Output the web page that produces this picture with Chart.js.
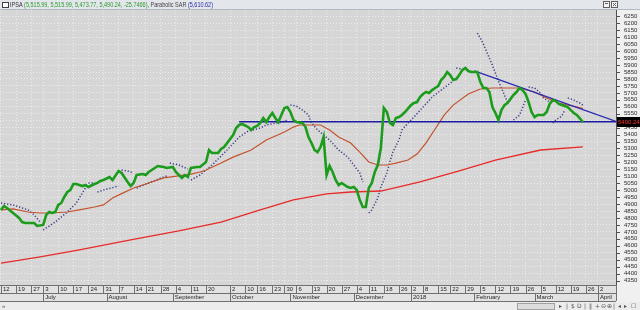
<!DOCTYPE html>
<html>
<head>
<meta charset="utf-8">
<script src="https://cdn.jsdelivr.net/npm/chart.js@4.4.1/dist/chart.umd.min.js"></script>
<style>
  html, body { margin: 0; padding: 0; background: #f0f0f0; overflow: hidden; }
  canvas { display: block; }
</style>
</head>
<body>
<canvas id="ipsaChart" width="640" height="310"></canvas>
<script>
// IPSA daily chart with 50/200 day averages, parabolic SAR and two trend lines.
// x = trading day index (0 = Mon 12 Jun 2017), y = index level.

const FONT = 'Liberation Sans';

// --- date band ---
const dayTickIdx = [0, 5, 10, 14, 19, 24, 29, 34, 39, 44, 48, 53, 58, 63, 68, 76, 81, 85, 90, 94, 98,
  103, 108, 113, 118, 122, 127, 132, 136, 140, 145, 149, 154, 159, 164, 169, 174, 179, 184, 189, 194, 198];
const dayTickLbl = ['12', '19', '27', '3', '10', '17', '24', '31', '7', '14', '21', '28', '4', '11', '20', '2', '10', '16', '23', '30', '6',
  '13', '20', '27', '4', '11', '18', '26', '2', '8', '15', '22', '29', '5', '12', '19', '26', '5', '12', '19', '26', '2'];
const monthTickIdx = [14, 35, 57, 76, 96, 117, 136, 157, 177, 198];
const monthTickLbl = ['July', 'August', 'September', 'October', 'November', 'December', '2018', 'February', 'March', 'April'];

// --- price axis labels ---
const yTickFirst = 4350;
const yTickLast = 6250;
const yTickStep = 50;

// --- close price ---
const priceDay = [0, 1, 2, 4, 6, 7, 8, 10, 11, 12, 14, 15, 16, 17, 18, 19, 20, 21, 22, 23, 24, 25, 27, 28, 29, 31, 32, 33, 34, 36, 37,
  39, 40, 42, 43, 44, 45, 47, 48, 49, 50, 52, 54, 55, 57, 58, 60, 61, 62, 63, 65, 66, 68, 69, 70, 72, 73, 74, 75, 77, 78, 79, 80,
  82, 83, 84, 85, 86, 87, 88, 89, 90, 91, 92, 93, 94, 95, 96, 97, 98, 100, 101, 102, 103, 104, 105, 106, 107, 108, 109, 110, 111,
  112, 113, 115, 116, 117, 118, 119, 120, 121, 122, 123, 124, 125, 126, 127, 128, 129, 130, 131, 132, 133, 134, 136, 137, 138, 139,
  140, 141, 142, 143, 144, 145, 146, 147, 148, 149, 150, 151, 152, 153, 154, 155, 156, 157, 158, 159, 160, 161, 162, 163, 164, 165,
  166, 167, 168, 170, 171, 172, 173, 174, 175, 176, 177, 178, 179, 180, 181, 182, 183, 184, 185, 186, 187, 188, 189, 190, 191, 192, 193];
const priceVal = [4858, 4886, 4872, 4836, 4800, 4771, 4764, 4764, 4764, 4743, 4750, 4822, 4843, 4836, 4843, 4894, 4908, 4951, 4987, 5001, 5044, 5044, 5030, 5037, 5023, 5044, 5052, 5066, 5073, 5095, 5073,
  5138, 5124, 5059, 5030, 5052, 5109, 5116, 5109, 5131, 5145, 5174, 5167, 5160, 5167, 5131, 5088, 5109, 5095, 5160, 5167, 5167, 5203, 5289, 5267, 5267, 5296, 5310, 5339, 5397, 5447, 5469, 5476,
  5454, 5433, 5454, 5462, 5483, 5519, 5490, 5526, 5555, 5519, 5490, 5541, 5591, 5598, 5562, 5505, 5490, 5483, 5454, 5382, 5339, 5289, 5274, 5310, 5382, 5109, 5174, 5131, 5073,
  5037, 5052, 5023, 5016, 5023, 5001, 4930, 4879, 4879, 5016, 5052, 5131, 5181, 5303, 5591, 5562, 5483, 5469, 5519, 5526, 5541, 5562, 5612, 5627, 5634, 5670,
  5692, 5706, 5699, 5720, 5735, 5749, 5792, 5814, 5850, 5828, 5792, 5799, 5828, 5864, 5879, 5857, 5850, 5850, 5850, 5778, 5735, 5735, 5706, 5598, 5555, 5505,
  5576, 5612, 5627, 5685, 5706, 5735, 5720, 5692, 5634, 5562, 5526, 5541, 5541, 5541, 5562, 5620, 5648, 5641, 5620, 5612, 5605, 5598, 5576, 5555, 5541, 5516, 5490];

// --- 50 day average ---
const maShortDay = [0, 4, 9, 13, 16, 22, 26, 31, 34, 37, 40, 44, 49, 54, 63, 66, 68, 73, 77, 83, 88, 94, 97, 99, 103, 106, 109, 112,
  116, 119, 122, 125, 128, 131, 135, 138, 141, 144, 147, 150, 155, 159, 163, 169, 172, 177, 181, 185, 193];
const maShortVal = [4858, 4865, 4843, 4836, 4836, 4843, 4858, 4879, 4894, 4944, 4975, 5016, 5052, 5088, 5116, 5131, 5145, 5195, 5238, 5289, 5361, 5418, 5454, 5469, 5469, 5469, 5433, 5382,
  5339, 5274, 5203, 5181, 5181, 5195, 5217, 5260, 5340, 5440, 5540, 5612, 5692, 5728, 5735, 5735, 5735, 5706, 5663, 5627, 5588];

// --- 200 day average ---
const maLongDay = [0, 13, 26, 43, 59, 73, 86, 97, 108, 116, 126, 132, 139, 152, 164, 179, 193];
const maLongVal = [4476, 4520, 4570, 4642, 4707, 4771, 4858, 4930, 4973, 4987, 4994, 5023, 5059, 5138, 5217, 5289, 5312];

// --- parabolic SAR (null = trend flip) ---
const sarDay = [0, 4, 9, 11, 13, 13.5, 14, 18, 22, 25, 27, 28, 28.5, 29, 31, 31.5, 32, 34, 39, 39.5, 40, 42, 44, 44.5,
  45, 49, 53, 55, 55.5, 56, 59, 62, 62.5, 63, 66, 70, 75, 79, 82, 86, 88, 93, 95, 95.5,
  96, 98, 100, 102, 103, 105, 107, 109, 112, 115, 117, 119, 120, 121,
  122, 123, 125, 126, 128, 129, 130, 132, 133, 135, 137, 140, 143, 146, 150, 150.5, 151, 153, 155,
  158, 159, 160, 161, 162, 163, 164, 165, 166, 167, 168, 169, 170, 172, 174, 174.5,
  175, 177, 179, 180, 182, 182.5, 183, 184, 186, 187, 187.5, 188, 190, 192, 193];
const sarVal = [4908, 4894, 4858, 4822, 4771, null, 4714, 4771, 4843, 4908, 4980, 5016, null, 5052, 5052, null, 4987, 5001, 5030, null, 5145, 5138, 5124, null,
  5016, 5052, 5088, 5102, null, 5196, 5181, 5152, null, 5073, 5109, 5181, 5289, 5382, 5425, 5447, 5469, 5490, 5504, null,
  5612, 5605, 5576, 5541, 5483, 5433, 5397, 5361, 5289, 5239, 5181, 5124, 5059, null,
  4836, 4858, 4944, 5023, 5124, 5203, 5275, 5361, 5433, 5483, 5526, 5598, 5670, 5720, 5785, null, 5879, 5872, null,
  6130, 6094, 6051, 6000, 5950, 5900, 5843, 5785, 5735, 5684, 5634, null, 5505, 5540, 5648, null,
  5742, 5735, 5699, 5663, 5634, null, 5483, 5505, 5533, 5576, null, 5663, 5648, 5627, 5612];

// --- trend lines ---
const supportDay = [79, 204];
const supportVal = [5492, 5492];
const resistDay = [157, 204];
const resistVal = [5858, 5494];

const lastClose = '5490.24';

const pts = (xs, ys) => xs.map((x, i) => ({ x: x, y: ys[i] }));

const framePlugin = {
  id: 'frame',
  beforeDraw(chart) {
    const { ctx, chartArea: a } = chart;
    ctx.save();
    ctx.fillStyle = '#f0f0f0';
    ctx.fillRect(0, 0, chart.width, chart.height);
    ctx.fillStyle = '#d6d6d6';
    ctx.fillRect(a.left, a.top, a.right - a.left, a.bottom - a.top);
    ctx.fillStyle = '#e2e2e2';
    ctx.fillRect(a.left, a.bottom, a.right - a.left, 16);
    ctx.restore();
  },
  afterDraw(chart) {
    const { ctx, chartArea: a } = chart;
    const sx = chart.scales.x, sx2 = chart.scales.x2, sy = chart.scales.y;
    ctx.save();
    // date band grid
    ctx.strokeStyle = '#707070';
    ctx.lineWidth = 1;
    ctx.beginPath();
    [a.bottom + 0.5, a.bottom + 8.5, a.bottom + 16.5].forEach(y => { ctx.moveTo(a.left, y); ctx.lineTo(a.right, y); });
    sx.ticks.forEach(t => {
      const px = Math.round(sx.getPixelForValue(t.value)) + 0.5;
      ctx.moveTo(px, a.bottom); ctx.lineTo(px, a.bottom + 8);
    });
    sx2.ticks.forEach(t => {
      const px = Math.round(sx2.getPixelForValue(t.value)) + 0.5;
      ctx.moveTo(px, a.bottom + 8); ctx.lineTo(px, a.bottom + 16);
    });
    ctx.moveTo(a.right + 0.5, a.bottom); ctx.lineTo(a.right + 0.5, a.bottom + 16);
    ctx.stroke();

    // right axis line and tick marks
    ctx.strokeStyle = '#505050';
    ctx.beginPath();
    ctx.moveTo(a.right + 0.5, a.top); ctx.lineTo(a.right + 0.5, a.bottom);
    sy.ticks.forEach(t => {
      const py = Math.round(sy.getPixelForValue(t.value)) + 0.5;
      ctx.moveTo(a.right, py); ctx.lineTo(a.right + 4, py);
    });
    ctx.stroke();

    // last price box
    const yc = Math.round(sy.getPixelForValue(parseFloat(lastClose)));
    ctx.fillStyle = '#000000';
    ctx.fillRect(a.right + 1, yc - 5, chart.width - a.right - 1, 10);
    ctx.fillStyle = '#ff3030';
    ctx.font = '6px ' + FONT;
    ctx.textBaseline = 'middle';
    ctx.fillText(lastClose, a.right + 2, yc + 0.5);

    // title bar
    ctx.fillStyle = '#e3e6eb';
    ctx.fillRect(0, 0, chart.width, 10);
    ctx.strokeStyle = '#b4b8c0';
    ctx.beginPath(); ctx.moveTo(0, 9.5); ctx.lineTo(chart.width, 9.5); ctx.stroke();
    ctx.fillStyle = '#ffffff';
    ctx.fillRect(2, 2, 6, 5);
    ctx.strokeStyle = '#404040';
    ctx.strokeRect(2.5, 2.5, 6, 5);
    const parts = [
      ['IPSA ', '#303030'],
      ['(5,515.99, 5,515.99, 5,473.77, 5,490.24, -25.7466)', '#2c9a2c'],
      [', Parabolic SAR ', '#404040'],
      ['(5,610.62)', '#2a2aa8']
    ];
    ctx.font = '6.5px ' + FONT;
    ctx.textBaseline = 'middle';
    const full = parts.map(p => p[0]).join('');
    const k = 203 / ctx.measureText(full).width;   // squeeze to the narrow bitmap font width
    ctx.save();
    ctx.translate(10, 5);
    ctx.scale(k, 1);
    let tx = 0;
    parts.forEach(([s, c]) => { ctx.fillStyle = c; ctx.fillText(s, tx, 0); tx += ctx.measureText(s).width; });
    ctx.restore();
    // window buttons
    [603, 611].forEach(bx => {
      ctx.fillStyle = '#f4f4f4'; ctx.fillRect(bx, 1, 7, 7);
      ctx.strokeStyle = '#606060'; ctx.strokeRect(bx + 0.5, 1.5, 6, 6);
    });
    ctx.beginPath();
    ctx.moveTo(605, 3.5); ctx.lineTo(608, 3.5);
    ctx.moveTo(613, 3); ctx.lineTo(616, 6); ctx.moveTo(616, 3); ctx.lineTo(613, 6);
    ctx.stroke();

    // scroll row
    ctx.fillStyle = '#ececec';
    ctx.fillRect(0, a.bottom + 17, chart.width, chart.height - a.bottom - 17);
    ctx.fillStyle = '#dcdcdc';
    ctx.fillRect(517, a.bottom + 18, 37, 6);
    ctx.strokeStyle = '#a0a0a0';
    ctx.strokeRect(517.5, a.bottom + 18.5, 37, 6);
    ctx.fillStyle = '#555555';
    ctx.font = '6px ' + FONT;
    ctx.fillText('\u00ab', 2, a.bottom + 21);
    ctx.font = '6px DejaVu Sans';
    const icons = [['\u25b8', 559], ['|', 566], ['$', 571], ['D', 577], ['|', 584], ['\u2016', 589], ['+', 595], ['\u229d', 601], ['\u2295', 607], ['|', 613], ['\u25c2', 618], ['\u25b8', 624], ['\u2610', 631]];
    icons.forEach(([s, x]) => ctx.fillText(s, x, a.bottom + 21.5));
    ctx.restore();
  }
};

const tickFont = { family: FONT, size: 6 };

const chart = new Chart(document.getElementById('ipsaChart'), {
  type: 'line',
  data: {
    datasets: [
      { label: 'IPSA', data: pts(priceDay, priceVal), borderColor: '#1c9c1c', borderWidth: 2.6, order: 0 },
      { label: 'Support', data: pts(supportDay, supportVal), borderColor: '#1c1ca0', borderWidth: 1.4, order: 1 },
      { label: 'Resistance', data: pts(resistDay, resistVal), borderColor: '#2a2ab0', borderWidth: 1.3, order: 1 },
      { label: 'MA 50', data: pts(maShortDay, maShortVal), borderColor: '#c4522c', borderWidth: 1.2, order: 2 },
      { label: 'MA 200', data: pts(maLongDay, maLongVal), borderColor: '#e82a2a', borderWidth: 1.3, order: 2 },
      { label: 'Parabolic SAR', data: pts(sarDay, sarVal), borderColor: '#3c3c86', borderWidth: 1.5,
        borderDash: [1.2, 1.9], spanGaps: false, order: 3 }
    ]
  },
  plugins: [framePlugin],
  options: {
    responsive: false,
    animation: false,
    devicePixelRatio: 1,
    layout: { padding: { top: 10, bottom: 9, left: 0, right: 0 } },
    elements: { point: { radius: 0 }, line: { tension: 0, borderCapStyle: 'butt' } },
    plugins: { legend: { display: false }, tooltip: { enabled: false }, title: { display: false } },
    scales: {
      x: {
        type: 'linear', position: 'bottom', min: -0.33, max: 204,
        afterBuildTicks: s => { s.ticks = dayTickIdx.map(v => ({ value: v })); },
        afterFit: s => { s.height = 8; s.paddingLeft = 0; s.paddingRight = 0; },
        ticks: { autoSkip: false, maxRotation: 0, align: 'start', labelOffset: 2, padding: 1,
          font: tickFont, color: '#1e1e1e', callback: (v, i) => dayTickLbl[i] },
        grid: { color: '#ececec', lineWidth: 1, drawTicks: false },
        border: { display: false, dash: [1, 2] }
      },
      x2: {
        type: 'linear', position: 'bottom', min: -0.33, max: 204,
        afterBuildTicks: s => { s.ticks = monthTickIdx.map(v => ({ value: v })); },
        afterFit: s => { s.height = 8; s.paddingLeft = 0; s.paddingRight = 0; },
        ticks: { autoSkip: false, maxRotation: 0, align: 'start', labelOffset: 2, padding: 1,
          font: tickFont, color: '#1e1e1e', callback: (v, i) => monthTickLbl[i] },
        grid: { display: false, drawTicks: false },
        border: { display: false }
      },
      y: {
        type: 'linear', position: 'right', min: 4318, max: 6296,
        afterBuildTicks: s => {
          const t = [];
          for (let v = yTickFirst; v <= yTickLast; v += yTickStep) t.push({ value: v });
          s.ticks = t;
        },
        afterFit: s => { s.width = 24; s.paddingTop = 0; s.paddingBottom = 0; },
        ticks: { autoSkip: false, padding: 8, font: tickFont, color: '#2a2a2a', callback: v => String(v) },
        grid: { color: '#ececec', lineWidth: 1, drawTicks: false },
        border: { display: false, dash: [1, 2] }
      }
    }
  }
});
</script>
</body>
</html>
